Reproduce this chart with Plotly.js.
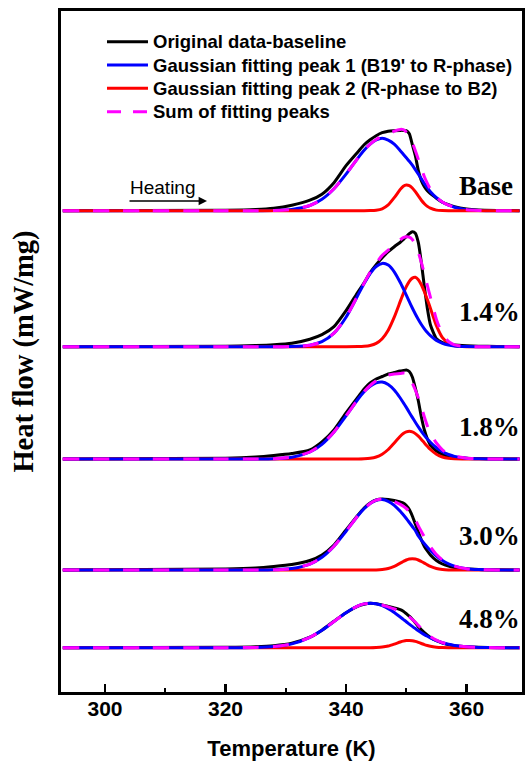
<!DOCTYPE html>
<html>
<head>
<meta charset="utf-8">
<script src="https://cdn.plot.ly/plotly-3.0.1.min.js"></script>
<style>
html,body{margin:0;padding:0;background:#fff;}
#chart{width:531px;height:762px;}
</style>
</head>
<body>
<div id="chart"></div>
<script>
// Temperature grid (K)
const temperatureK = [293,320,325,328,331,334,336,338,340,342,343,344,345,346,347,348,349,349.5,350,350.5,351,351.5,352,352.5,353,353.5,354,355,356,357,358,360,362,365,368.8];

const sampleLabels = ['Base', '1.4%', '1.8%', '3.0%', '4.8%'];
// vertical stacking offset of each curve (arbitrary heat-flow units)
const curveOffset = [481.3, 345.3, 233, 122, 44.3];

// Original data - baseline (arbitrary units above each curve's own baseline)
const originalBase = [0,0.5,1.2,2.5,5.5,10.5,16.5,28,45,59,66,71,75,78,79.5,80,80.3,80.3,80,77,66,55,40,30,24,20,17,12.5,8.5,6,4,1.8,0.8,0.3,0];
const original14   = [0,0.5,1.2,2,3.5,7.5,12,20,36,55,64,74,82,89,95,100,104.5,107,110,113,115,113.5,104,84,60,38,22,8,4,2.5,1.7,1,0.5,0.2,0];
const original18   = [0,0.8,2,3.5,5.5,9,17,29,46,62,70,76,80,82.5,85,86.5,88,88.5,89,87.5,82,71,58,42,29,20,14,8,4.5,2.8,1.8,0.8,0.4,0.2,0];
const original30   = [0,1,2,3.5,5.5,9.5,15,25,40,55,62,67,70,71,70.5,69.5,68,67,64.5,60.5,54,46,38,30,23.5,19,15,9.5,6,4,2.5,1.2,0.6,0.2,0];
const original48   = [0,0.5,1,2,4.5,10.5,17.5,26.5,35,41.5,43.5,44.5,44,42.8,41.3,39.8,38,36.5,34,31.5,28.5,25,21,18,15,12.5,10.3,7,4.6,3,2,0.9,0.4,0.1,0];

// Gaussian fitting peak 1 (B19' to R-phase)
const peak1Base = [0,0,0,0.2,1.2,5.2,11.4,21.9,36.5,52.9,60.4,66.5,70.7,72.4,70.5,66.5,60,56.5,53,49.5,45.5,41,36.5,31.8,27,23,19,13,8.5,5.5,3.5,1,0.3,0,0];
const peak1_14   = [0,0,0,0,0.2,1.5,5,13.5,29.5,51.8,63.2,73.2,80.2,83.3,81.6,74.9,64.2,58,51.5,45,38.7,32.7,27.2,22.2,17.9,14.1,11,6.3,3.4,1.7,0.8,0.15,0,0,0];
const peak1_18   = [0,0,0.05,0.3,1.8,7,14.7,27,43.1,60,67.3,72.8,76.2,77,74.5,69,61,56.4,51.6,46.6,41.6,36.8,32.1,27.7,23.7,20,16.7,11.2,7.2,4.5,2.6,0.8,0.2,0,0];
const peak1_30   = [0,0,0,0.25,1.4,5.9,12.7,23.8,38.7,54.5,61.3,66.6,69.7,70.5,68.7,64.7,58.7,55.2,51.5,47.5,43.5,39.5,34,30,26.3,22.8,19.6,14,9.5,6.2,3.9,1.3,0.4,0,0];
const peak1_48   = [0,0,0.25,1.1,3.8,10.4,17.4,26.2,35,41.8,43.8,44.5,44,42.1,39.1,35.2,30.7,28.3,26,23.6,21.3,19.1,17,15,13.1,11.4,9.8,7.1,5,3.4,2.3,0.9,0.3,0.05,0];

// Gaussian fitting peak 2 (R-phase to B2)
const peak2Base = [0,0,0,0,0,0,0,0,0,0,0,0.1,0.5,1.9,5.8,13,21.3,24.5,25.7,25,22.7,19,14.7,10.5,7,4.3,2.5,0.6,0.1,0,0,0,0,0,0];
const peak2_14   = [0,0,0,0,0,0,0,0,0,0.1,0.4,1.2,3.3,8,16.5,29.5,45.3,53.1,60,65.4,68.6,69.4,67,62,55,47,38.5,21,9,3.5,1,0,0,0,0];
const peak2_18   = [0,0,0,0,0,0,0,0,0,0,0.2,0.7,2,4.8,9.5,16.1,22.8,25.4,27.1,27.7,27.1,25.4,22.8,19.6,16.1,12.7,9.5,4.8,2,0.7,0.2,0,0,0,0];
const peak2_30   = [0,0,0,0,0,0,0,0,0,0,0,0,0.1,0.5,1.5,3.7,6.9,8.5,10,11,11.3,11,10,8.5,6.9,5.2,3.7,1.5,0.5,0.1,0,0,0,0,0];
const peak2_48   = [0,0,0,0,0,0,0,0,0,0,0,0,0.2,0.65,1.7,3.6,5.7,6.6,7.2,7.3,7,6.3,5.3,4.2,3.1,2.2,1.4,0.5,0.15,0,0,0,0,0,0];

// Sum of fitting peaks
const sumBase = [0,0,0,0.2,1.2,5.2,11.4,21.9,36.5,52.9,60.4,66.6,71.2,74.3,76.3,79.5,81.3,81,78.7,74.5,68.2,60,51.2,42.3,34,27.3,21.5,13.6,8.6,5.5,3.5,1,0.3,0,0];
const sum14   = [0,0,0,0,0.2,1.5,5,13.5,29.5,52,63.6,74.4,83.5,91.3,96.5,102,107,109,110,109.5,107.3,102.1,94.2,84.2,72.9,61.1,49.5,27.3,12.4,5.2,1.8,0.15,0,0,0];
const sum18   = [0,0,0.05,0.3,1.8,7,14.7,27,43.1,60,67.5,73.5,78.2,81.8,84,85.1,85.5,86,85.5,82,76,69,61,52,42,33,26,16,9.2,5.2,2.8,0.8,0.2,0,0];
const sum30   = [0,0,0,0.25,1.4,5.9,12.7,23.8,38.7,54.5,61.3,66.6,69.8,71,70.2,68.4,65.6,63.7,61.5,58.5,54.8,50.5,44,38.5,33.2,28,23.3,15.5,10,6.3,3.9,1.3,0.4,0,0];
const sum48   = [0,0,0.25,1.1,3.8,10.4,17.4,26.2,35,41.8,43.8,44.5,44.2,42.75,40.8,38.8,36.4,34.9,33.2,30.9,28.3,25.4,22.3,19.2,16.2,13.6,11.2,7.6,5.15,3.4,2.3,0.9,0.3,0.05,0];

const originalSets = [originalBase, original14, original18, original30, original48];
const peak1Sets = [peak1Base, peak1_14, peak1_18, peak1_30, peak1_48];
const peak2Sets = [peak2Base, peak2_14, peak2_18, peak2_30, peak2_48];
const sumSets = [sumBase, sum14, sum18, sum30, sum48];

const seriesNames = ['Original data-baseline', "Gaussian fitting peak 1 (B19' to R-phase)", 'Gaussian fitting peak 2 (R-phase to B2)', 'Sum of fitting peaks'];
const seriesColors = ['#000000', '#0000ff', '#ff0000', '#ff00ff'];
const seriesDash = ['solid', 'solid', 'solid', '16px,14px'];

const traces = [];
function mk(vals, off, k) {
  return {
    type: 'scatter', mode: 'lines',
    x: temperatureK,
    y: vals.map(v => v + off),
    name: seriesNames[k],
    showlegend: false,
    line: {color: seriesColors[k], width: 3, shape: 'spline', smoothing: 0.6, dash: seriesDash[k]},
    hoverinfo: 'skip'
  };
}
for (let i = 0; i < sampleLabels.length; i++) {
  const off = curveOffset[i];
  traces.push(mk(originalSets[i], off, 0));
  if (i === 0) {
    traces.push(mk(peak1Sets[i], off, 1));
    traces.push(mk(peak2Sets[i], off, 2));
  } else {
    traces.push(mk(peak2Sets[i], off, 2));
    traces.push(mk(peak1Sets[i], off, 1));
  }
  traces.push(mk(sumSets[i], off, 3));
}

const sansBold = {family: 'Liberation Sans, Arial, sans-serif', size: 18.5, color: '#000', weight: 'bold'};
const labelY = [0.743, 0.558, 0.389, 0.229, 0.107];
const annotations = sampleLabels.map((s, i) => ({
  xref: 'paper', yref: 'paper', x: 0.858, y: labelY[i],
  xanchor: 'left', yanchor: 'middle', showarrow: false, text: s,
  font: {family: 'Liberation Serif, Times New Roman, serif', size: 27, color: '#000', weight: 'bold'}
}));
annotations.push({
  xref: 'paper', yref: 'paper', x: 0.146, y: 0.741, xanchor: 'left', yanchor: 'middle',
  showarrow: false, text: 'Heating',
  font: {family: 'Liberation Sans, Arial, sans-serif', size: 19, color: '#000'}
});
annotations.push({
  xref: 'paper', yref: 'paper', x: 0.3167, y: 0.721,
  axref: 'pixel', ayref: 'pixel', ax: -79, ay: 0,
  showarrow: true, text: '', arrowhead: 2, arrowsize: 1.2, arrowwidth: 1.4, arrowcolor: '#000'
});

// legend drawn as line samples + labels
const legendRowY = [0.9549, 0.9207, 0.8865, 0.8521];
const shapes = [];
seriesNames.forEach((nm, k) => {
  shapes.push({type: 'line', xref: 'paper', yref: 'paper', x0: 0.0998, x1: 0.1887,
    y0: legendRowY[k], y1: legendRowY[k],
    line: {color: seriesColors[k], width: 3, dash: k === 3 ? '14px,12px' : 'solid'}});
  annotations.push({xref: 'paper', yref: 'paper', x: 0.1952, y: legendRowY[k],
    xanchor: 'left', yanchor: 'middle', showarrow: false, text: nm, font: sansBold});
});

const layout = {
  width: 531, height: 762,
  margin: {l: 61, r: 9, t: 11, b: 70},
  paper_bgcolor: '#fff', plot_bgcolor: '#fff',
  showlegend: false,
  xaxis: {
    range: [292.7, 369.2], dtick: 20, tick0: 0,
    showgrid: false, zeroline: false,
    showline: true, mirror: true, linecolor: '#000', linewidth: 3,
    ticks: 'inside', ticklen: 8, tickwidth: 2.5, tickcolor: '#000',
    ticklabelstandoff: -4,
    minor: {ticks: 'inside', dtick: 10, ticklen: 4, tickwidth: 2, tickcolor: '#000', showgrid: false},
    tickfont: {family: 'Liberation Sans, Arial, sans-serif', size: 21, color: '#000', weight: 'bold'},
    title: {text: 'Temperature (K)', standoff: 22,
            font: {family: 'Liberation Sans, Arial, sans-serif', size: 22, color: '#000', weight: 'bold'}},
    automargin: false
  },
  yaxis: {
    range: [0, 681],
    showgrid: false, zeroline: false, showticklabels: false, ticks: '',
    showline: true, mirror: true, linecolor: '#000', linewidth: 3,
    title: {text: 'Heat flow (mW/mg)', standoff: 17,
            font: {family: 'Liberation Serif, Times New Roman, serif', size: 28.5, color: '#000', weight: 'bold'}},
    automargin: false
  },
  shapes: shapes,
  annotations: annotations
};

Plotly.newPlot('chart', traces, layout, {displayModeBar: false, staticPlot: true});
</script>
</body>
</html>
